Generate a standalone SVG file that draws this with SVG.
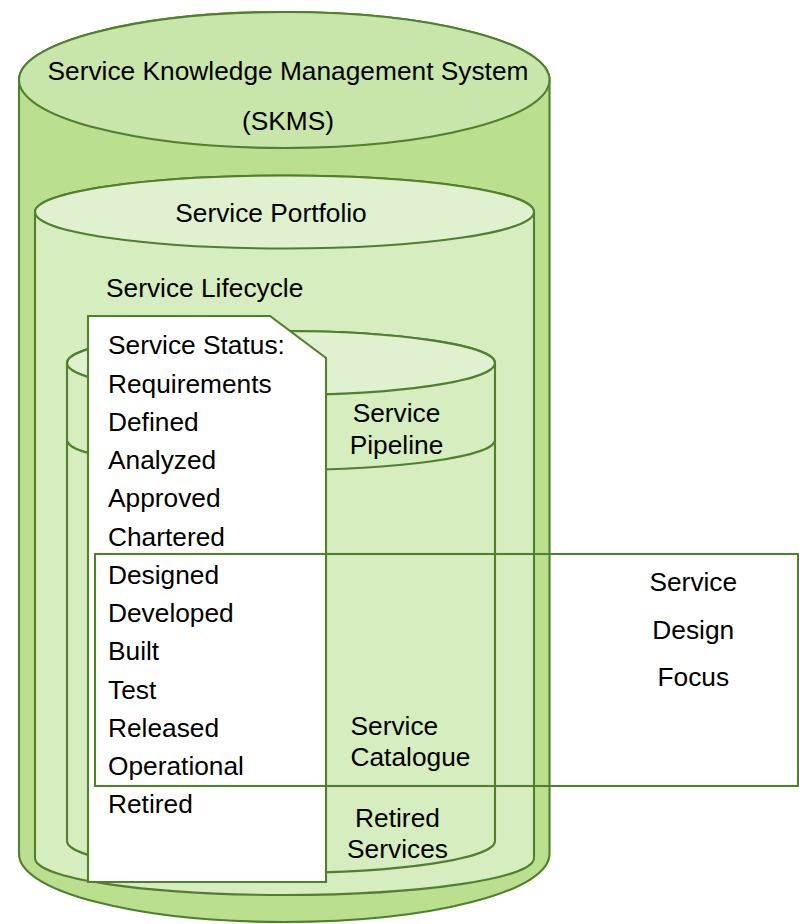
<svg xmlns="http://www.w3.org/2000/svg" width="799" height="924" viewBox="0 0 799 924">
  <style>
    .edge { stroke: #507f2d; stroke-width: 2.1; }
    .outer-body { fill: #b9df8f; }
    .outer-top { fill: #c8e6a9; }
    .light-body { fill: #d6edbf; }
    .light-top { fill: #dff1cf; }
    .label { font-family: "Liberation Sans", Arial, sans-serif; font-size: 26.3px; fill: #000; }
    .mid { text-anchor: middle; }
  </style>

  <!-- Service Knowledge Management System (outer cylinder) -->
  <g id="skms">
    <path class="outer-body edge" d="M19,80 A265.25,68 0 0 1 549.5,80 L549.5,854 A265.25,68 0 0 1 19,854 Z"/>
    <ellipse class="outer-top edge" cx="284.25" cy="80" rx="265.25" ry="68"/>
    <text class="label mid" x="288" y="80">Service Knowledge Management System</text>
    <text class="label mid" x="288" y="130">(SKMS)</text>
  </g>

  <!-- Service Portfolio (middle cylinder) -->
  <g id="portfolio">
    <path class="light-body edge" d="M35,212 A249.5,36.5 0 0 1 534,212 L534,858 A249.5,37 0 0 1 35,858 Z"/>
    <ellipse class="light-top edge" cx="284.5" cy="212" rx="249.5" ry="36.5"/>
    <text class="label mid" x="271" y="222">Service Portfolio</text>
    <text class="label" x="106" y="297">Service Lifecycle</text>
  </g>

  <!-- Pipeline / Catalogue / Retired (inner cylinder) -->
  <g id="lifecycle-store">
    <path class="light-body edge" d="M67,363 A214,32 0 0 1 495,363 L495,841 A214,32 0 0 1 67,841 Z"/>
    <path class="edge" fill="none" d="M67,440 A214,30 0 0 0 495,440"/>
    <ellipse class="light-top edge" cx="281" cy="363" rx="214" ry="32"/>
    <text class="label mid" x="396.5" y="422">Service</text>
    <text class="label mid" x="396.5" y="454">Pipeline</text>
    <text class="label" x="350.5" y="735">Service</text>
    <text class="label" x="350.5" y="766">Catalogue</text>
    <text class="label mid" x="397.5" y="827">Retired</text>
    <text class="label mid" x="397.5" y="858">Services</text>
  </g>

  <!-- Service status list (document with cut corner) -->
  <g id="service-status">
    <path class="edge" fill="#ffffff" d="M88,316 L270,316 L326,358 L326,882 L88,882 Z"/>
    <text class="label" x="108" y="354.3">Service Status:</text>
    <text class="label" x="108" y="392.5">Requirements</text>
    <text class="label" x="108" y="430.8">Defined</text>
    <text class="label" x="108" y="469">Analyzed</text>
    <text class="label" x="108" y="507.3">Approved</text>
    <text class="label" x="108" y="545.5">Chartered</text>
    <text class="label" x="108" y="583.8">Designed</text>
    <text class="label" x="108" y="622">Developed</text>
    <text class="label" x="108" y="660.3">Built</text>
    <text class="label" x="108" y="698.5">Test</text>
    <text class="label" x="108" y="736.8">Released</text>
    <text class="label" x="108" y="775">Operational</text>
    <text class="label" x="108" y="813.3">Retired</text>
  </g>

  <!-- Service Design focus frame -->
  <g id="design-focus">
    <rect class="edge" fill="none" x="95" y="554" width="703" height="232"/>
    <text class="label mid" x="693.3" y="591">Service</text>
    <text class="label mid" x="693.3" y="639">Design</text>
    <text class="label mid" x="693.3" y="686">Focus</text>
  </g>

  <g id="connectors"/>
</svg>
